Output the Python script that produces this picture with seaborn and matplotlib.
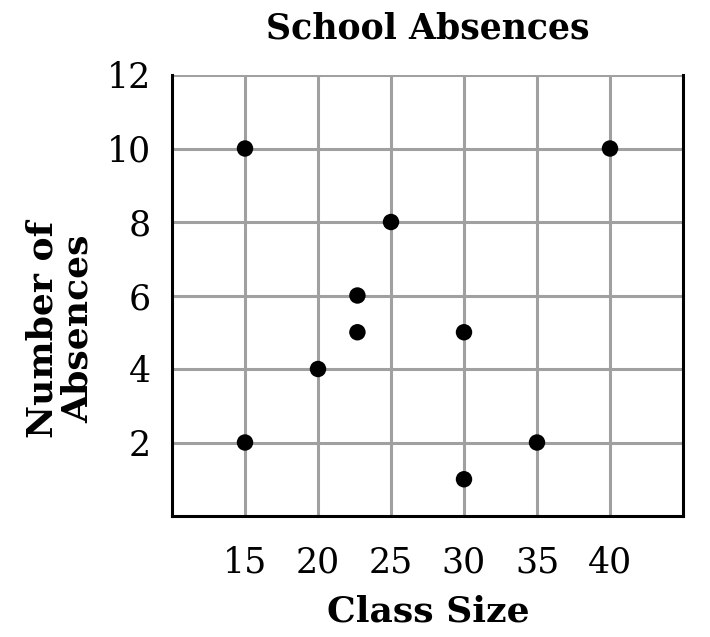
import matplotlib
matplotlib.use("Agg")
import matplotlib.pyplot as plt
import seaborn as sns
import pandas as pd

class_size = [15, 15, 20, 22.7, 22.7, 25, 30, 30, 35, 40]
absences = [10, 2, 4, 6, 5, 8, 5, 1, 2, 10]
x_ticks = [15, 20, 25, 30, 35, 40]
y_ticks = [2, 4, 6, 8, 10, 12]

df = pd.DataFrame({"Class Size": class_size, "Number of Absences": absences})

sns.set_theme(style="white")
plt.rcParams['font.family'] = ['DejaVu Serif']
plt.rcParams['text.color'] = 'black'
plt.rcParams['axes.labelcolor'] = 'black'

fig = plt.figure(figsize=(7.10, 6.37), dpi=100)
ax = fig.add_axes([172/710, 1-516/637, (683-172)/710, (516-75)/637])

sns.scatterplot(data=df, x="Class Size", y="Number of Absences", ax=ax,
                color="black", s=140, edgecolor="none", zorder=3, clip_on=False)

ax.set_xlim(10, 45)
ax.set_ylim(0, 12)
ax.set_xticks(x_ticks)
ax.set_yticks(y_ticks)
ax.grid(True, color="#a0a0a0", linewidth=2.2, zorder=0)
ax.set_axisbelow(True)

for side in ["left", "bottom", "right"]:
    ax.spines[side].set_visible(True)
    ax.spines[side].set_color("black")
    ax.spines[side].set_linewidth(2.2)
ax.spines["top"].set_visible(False)

ax.tick_params(axis="both", direction="out", length=9.4, width=2, color="black",
               labelsize=25, labelcolor="black")
ax.tick_params(axis="y", pad=6)
ax.tick_params(axis="x", pad=12)

ax.set_xlabel("Class Size", fontsize=26, fontweight="bold", color="black")
ax.xaxis.set_label_coords((428-172)/511, -(622-516)/441)
ax.xaxis.label.set_va("baseline")
ax.set_ylabel("Number of\nAbsences", fontsize=26, fontweight="bold", color="black",
              linespacing=1.05)
ax.yaxis.set_label_coords((95-172)/511, (516-329)/441)

ax.set_title("School Absences", fontsize=25, fontweight="bold", color="black", pad=26)

fig.savefig("out.png", dpi=100)
